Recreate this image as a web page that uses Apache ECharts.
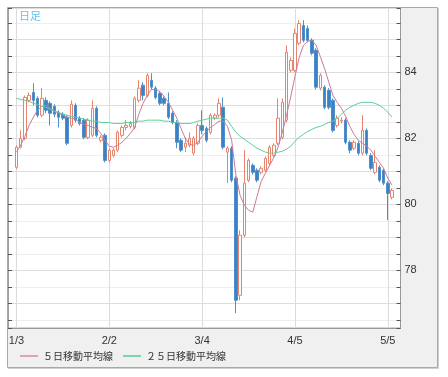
<!DOCTYPE html>
<html><head><meta charset="utf-8">
<script src="https://cdn.jsdelivr.net/npm/echarts@6/dist/echarts.min.js"></script>
<style>html,body{margin:0;padding:0;background:#fff;}#c{width:448px;height:377px;}</style>
</head><body><div id="c"></div>
<script>
const tickLabels = ['1/3', '2/2', '3/4', '4/5', '5/5'];
const tickAt = [0, 22, 44, 66, 88];
const padBefore = 2, padAfter = 2;
const yLabels = [78, 80, 82, 84];
// [open, close, low, high]
const ohlc = [
[81.12,81.73,81.06,81.79],[81.73,82.00,81.70,82.24],[82.00,83.24,81.94,83.30],[83.15,83.30,83.09,83.39],
[83.39,83.15,83.00,83.67],[83.21,82.70,82.64,83.27],[82.70,83.21,82.64,83.52],[83.15,82.85,82.76,83.24],
[83.06,82.76,82.39,83.12],[82.97,82.73,82.64,83.03],[82.79,82.64,82.33,82.85],[82.73,82.61,82.55,82.79],
[82.64,81.85,81.79,82.70],[82.39,83.03,82.33,83.15],[83.00,82.55,82.48,83.06],[82.61,82.45,82.39,82.67],
[82.55,82.03,81.97,82.61],[82.03,82.55,81.97,82.61],[82.09,82.91,82.03,83.15],[82.91,82.09,82.03,82.97],
[81.94,82.03,81.88,82.09],[82.09,81.33,81.27,82.15],[81.33,81.64,81.27,81.70],[81.48,81.64,81.42,81.70],
[81.64,82.18,81.58,82.24],[82.09,82.33,82.03,82.39],[82.33,82.39,82.24,82.55],[82.36,82.45,82.30,82.52],
[82.33,83.21,82.27,83.27],[83.15,83.52,83.09,83.76],[83.61,83.30,83.15,83.70],[83.30,83.91,83.24,83.97],
[83.76,83.55,83.48,83.97],[83.52,83.24,83.18,83.58],[83.36,83.06,83.00,83.42],[83.21,83.06,83.00,83.27],
[83.06,82.64,82.58,83.39],[82.76,82.48,82.42,82.82],[82.48,81.88,81.70,82.55],[81.94,81.64,81.58,82.00],
[81.73,81.85,81.58,82.03],[81.79,82.00,81.73,82.18],[81.55,82.00,81.48,82.06],[81.85,82.39,81.79,82.45],
[82.39,82.24,82.12,82.85],[82.30,81.94,81.88,82.36],[82.18,82.70,82.12,82.76],[82.61,82.70,82.55,82.76],
[82.70,83.06,82.64,83.21],[82.94,81.73,81.67,83.24],[81.58,81.70,80.64,81.76],[81.70,80.73,80.67,81.76],
[80.79,77.09,76.70,80.85],[77.24,79.06,77.09,79.21],[79.06,80.64,79.00,81.64],[80.73,81.33,80.67,81.39],
[81.18,80.97,80.90,81.24],[81.03,80.73,80.67,81.09],[80.97,81.09,80.91,81.15],[81.03,81.39,80.97,81.45],
[81.24,81.73,81.18,81.79],[81.48,81.79,81.42,81.85],[81.85,82.61,81.79,83.21],[82.03,83.09,81.97,83.21],
[82.55,84.61,82.48,84.82],[84.06,84.36,84.00,84.45],[84.06,85.18,84.00,85.33],[84.88,85.48,84.82,85.58],
[85.42,84.97,84.91,85.58],[85.33,84.97,84.91,85.42],[84.97,84.58,84.52,85.03],[84.67,83.55,83.48,84.73],
[83.52,83.91,83.45,83.97],[83.55,82.94,82.88,83.61],[83.45,82.94,82.88,83.52],[83.15,82.24,82.18,83.21],
[82.39,82.61,82.33,82.70],[82.52,82.55,82.45,82.64],[82.55,81.88,81.82,82.61],[81.88,81.64,81.55,81.94],
[81.70,81.88,81.64,81.94],[81.85,81.55,81.48,81.91],[81.55,82.24,81.48,82.70],[82.24,81.55,81.48,82.30],
[81.48,81.09,81.03,81.55],[80.97,81.27,80.91,81.64],[81.12,80.73,80.67,81.18],[81.03,80.64,80.58,81.09],
[80.64,80.33,79.52,80.70],[80.21,80.42,80.15,80.48]
];
const ma5 = [
81.58,81.79,82.06,82.39,82.64,82.85,82.97,83.00,82.91,82.82,
82.76,82.70,82.64,82.61,82.58,82.48,82.42,82.39,82.33,82.30,
82.15,81.94,81.76,81.73,81.79,81.88,82.00,82.15,82.33,82.73,
83.06,83.30,83.48,83.48,83.42,83.27,83.09,82.85,82.61,82.30,
82.00,81.82,81.79,81.88,82.06,82.21,82.33,82.42,82.52,82.52,
82.36,81.94,80.88,80.27,79.97,79.82,79.76,80.24,80.70,80.94,
81.18,81.42,81.73,82.18,82.70,83.27,83.88,84.45,84.82,84.94,
84.97,84.82,84.48,84.12,83.70,83.30,83.09,82.91,82.67,82.36,
82.12,81.94,81.85,81.76,81.64,81.45,81.27,81.09,80.79,80.58
];
const ma25 = [
83.21,83.18,83.15,83.12,83.06,83.03,82.97,82.94,82.88,82.82,
82.79,82.73,82.70,82.67,82.64,82.61,82.58,82.55,82.52,82.52,
82.48,82.48,82.48,82.45,82.45,82.45,82.48,82.48,82.48,82.52,
82.52,82.55,82.55,82.55,82.55,82.52,82.52,82.48,82.48,82.45,
82.45,82.45,82.48,82.52,82.55,82.58,82.61,82.61,82.61,82.61,
82.55,82.36,82.18,82.06,81.97,81.88,81.79,81.70,81.64,81.58,
81.55,81.55,81.58,81.61,81.67,81.76,81.91,82.03,82.12,82.21,
82.27,82.33,82.36,82.42,82.48,82.52,82.61,82.73,82.85,82.94,
83.00,83.06,83.09,83.09,83.09,83.06,83.00,82.91,82.79,82.64
];

const nCat = padBefore + ohlc.length + padAfter;
const categories = [];
for (let i = 0; i < nCat; i++) {
  const k = i - padBefore;
  const t = tickAt.indexOf(k);
  categories.push(t >= 0 ? tickLabels[t] : 'd' + i);
}
const isTickCat = (i) => tickAt.indexOf(i - padBefore) >= 0;
const pad = (arr, blank) => {
  const out = [];
  for (let i = 0; i < padBefore; i++) out.push(blank);
  arr.forEach(v => out.push(v));
  for (let i = 0; i < padAfter; i++) out.push(blank);
  return out;
};
const candleData = pad(ohlc, ['-', '-', '-', '-']);
const ma5Data = pad(ma5, '-');
const ma25Data = pad(ma25, '-');

const yMin = 76.25, yMax = 85.95;
const chart = echarts.init(document.getElementById('c'), null, {renderer: 'canvas'});
const yCommon = {
  type: 'value', min: yMin, max: yMax, splitNumber: 20, minInterval: 0.5, maxInterval: 0.5,
  scale: true
};
chart.setOption({
  animation: false,
  title: {
    text: '日足', left: 19, top: 10, padding: 0,
    textStyle: {fontSize: 11, fontWeight: 'normal', color: '#5cc6f2', fontFamily: 'Noto Sans CJK JP'}
  },
  graphic: [
    {type: 'rect', z: -100, shape: {x: 7.5, y: 7.5, width: 430, height: 360},
     style: {fill: '#f0f0f0', stroke: '#a8a8a8', lineWidth: 1}},
    {type: 'line', z: -99, shape: {x1: 438.5, y1: 8, x2: 438.5, y2: 368.5}, style: {stroke: '#d0d0d0', lineWidth: 1}},
    {type: 'line', z: -99, shape: {x1: 8, y1: 368.5, x2: 438.5, y2: 368.5}, style: {stroke: '#d0d0d0', lineWidth: 1}}
  ],
  legend: {
    left: 20, top: 351, padding: 0, itemWidth: 18, itemHeight: 2, icon: 'rect', itemGap: 10,
    data: ['５日移動平均線', '２５日移動平均線'],
    textStyle: {fontSize: 10, color: '#333', fontFamily: 'Noto Sans CJK JP'}
  },
  grid: {
    left: 8, right: 47.5, top: 8, bottom: 49, show: true,
    backgroundColor: '#ffffff', borderColor: '#aaaaaa', borderWidth: 1
  },
  xAxis: {
    type: 'category', data: categories, boundaryGap: false,
    axisLine: {lineStyle: {color: '#999'}},
    axisTick: {show: false},
    axisLabel: {
      interval: (i) => isTickCat(i), color: '#333', fontSize: 11, margin: 7,
      fontFamily: 'Liberation Sans'
    },
    splitLine: {show: true, interval: (i) => isTickCat(i), lineStyle: {color: '#dcdcdc', width: 1}}
  },
  yAxis: [
    Object.assign({}, yCommon, {
      position: 'left',
      axisLine: {show: true, lineStyle: {color: '#a0a0a0'}},
      axisTick: {show: true, inside: true, length: 4, lineStyle: {color: '#555'}},
      axisLabel: {show: false},
      splitLine: {show: true, lineStyle: {color: ['#dddddd', '#eeeeee'], width: 1}}
    }),
    Object.assign({}, yCommon, {
      position: 'right',
      axisLine: {show: true, lineStyle: {color: '#999'}},
      axisTick: {show: true, inside: true, length: 4, lineStyle: {color: '#555'}},
      axisLabel: {
        show: true, margin: 4, color: '#333', fontSize: 11, fontFamily: 'Liberation Sans',
        formatter: (v) => (yLabels.indexOf(Math.round(v * 100) / 100) >= 0 ? String(Math.round(v)) : '')
      },
      splitLine: {show: false}
    })
  ],
  series: [
    {
      name: '日足', type: 'candlestick', data: candleData, barWidth: 3,
      itemStyle: {color: '#ffffff', color0: '#3b82c4', borderColor: '#e8846c', borderColor0: '#4f90cc', borderWidth: 1}
    },
    {
      name: '５日移動平均線', type: 'line', data: ma5Data, symbol: 'none', smooth: false,
      lineStyle: {color: '#cc7a98', width: 1}, itemStyle: {color: '#e0a3b6'}
    },
    {
      name: '２５日移動平均線', type: 'line', data: ma25Data, symbol: 'none', smooth: false,
      lineStyle: {color: '#5ccf98', width: 1}, itemStyle: {color: '#7dd6aa'}
    }
  ]
});
</script></body></html>
